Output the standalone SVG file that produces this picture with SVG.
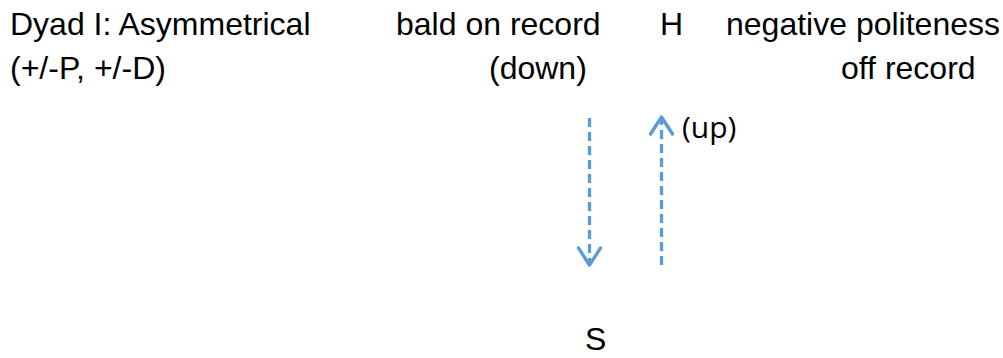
<svg xmlns="http://www.w3.org/2000/svg" width="1003" height="358" viewBox="0 0 1003 358">
  <style>
    .t { font-family: "Liberation Sans", Arial, sans-serif; font-size: 32px; fill: #000; }
    .c { font-family: "Open Sans", "Noto Sans", sans-serif; font-size: 30px; fill: #000; }
    .link { stroke: #5B9BD5; stroke-width: 3.3; fill: none; stroke-dasharray: 9 5; }
    .head { stroke: #5B9BD5; stroke-width: 3.3; fill: none; stroke-linecap: round; stroke-linejoin: round; }
  </style>
  <rect width="1003" height="358" fill="#fff"/>

  <g id="title">
    <text class="t" x="10" y="35">Dyad I: Asymmetrical</text>
    <text class="t" x="10" y="79">(+/-P, +/-D)</text>
  </g>
  <g id="bald-on-record">
    <text class="t" x="396" y="35">bald on record</text>
  </g>
  <g id="down-label">
    <text class="t" x="489" y="79">(down)</text>
  </g>
  <g id="H">
    <text class="t" x="660" y="35">H</text>
  </g>
  <g id="negative-politeness">
    <text class="t" x="726" y="35">negative politeness</text>
  </g>
  <g id="off-record">
    <text class="t" x="841" y="79">off record</text>
  </g>
  <g id="up-label">
    <text class="c" x="682" y="138">(up)</text>
  </g>
  <g id="S">
    <text class="t" x="585" y="350">S</text>
  </g>

  <g id="connectors">
    <!-- downward arrow -->
    <line class="link" x1="589.5" y1="118" x2="589.5" y2="264"/>
    <polyline class="head" points="578.5,248 589.5,265 600.5,248"/>
    <!-- upward arrow -->
    <line class="link" x1="661.5" y1="265" x2="661.5" y2="119"/>
    <polyline class="head" points="650.5,134 661.5,117 672.5,134"/>
  </g>
</svg>
